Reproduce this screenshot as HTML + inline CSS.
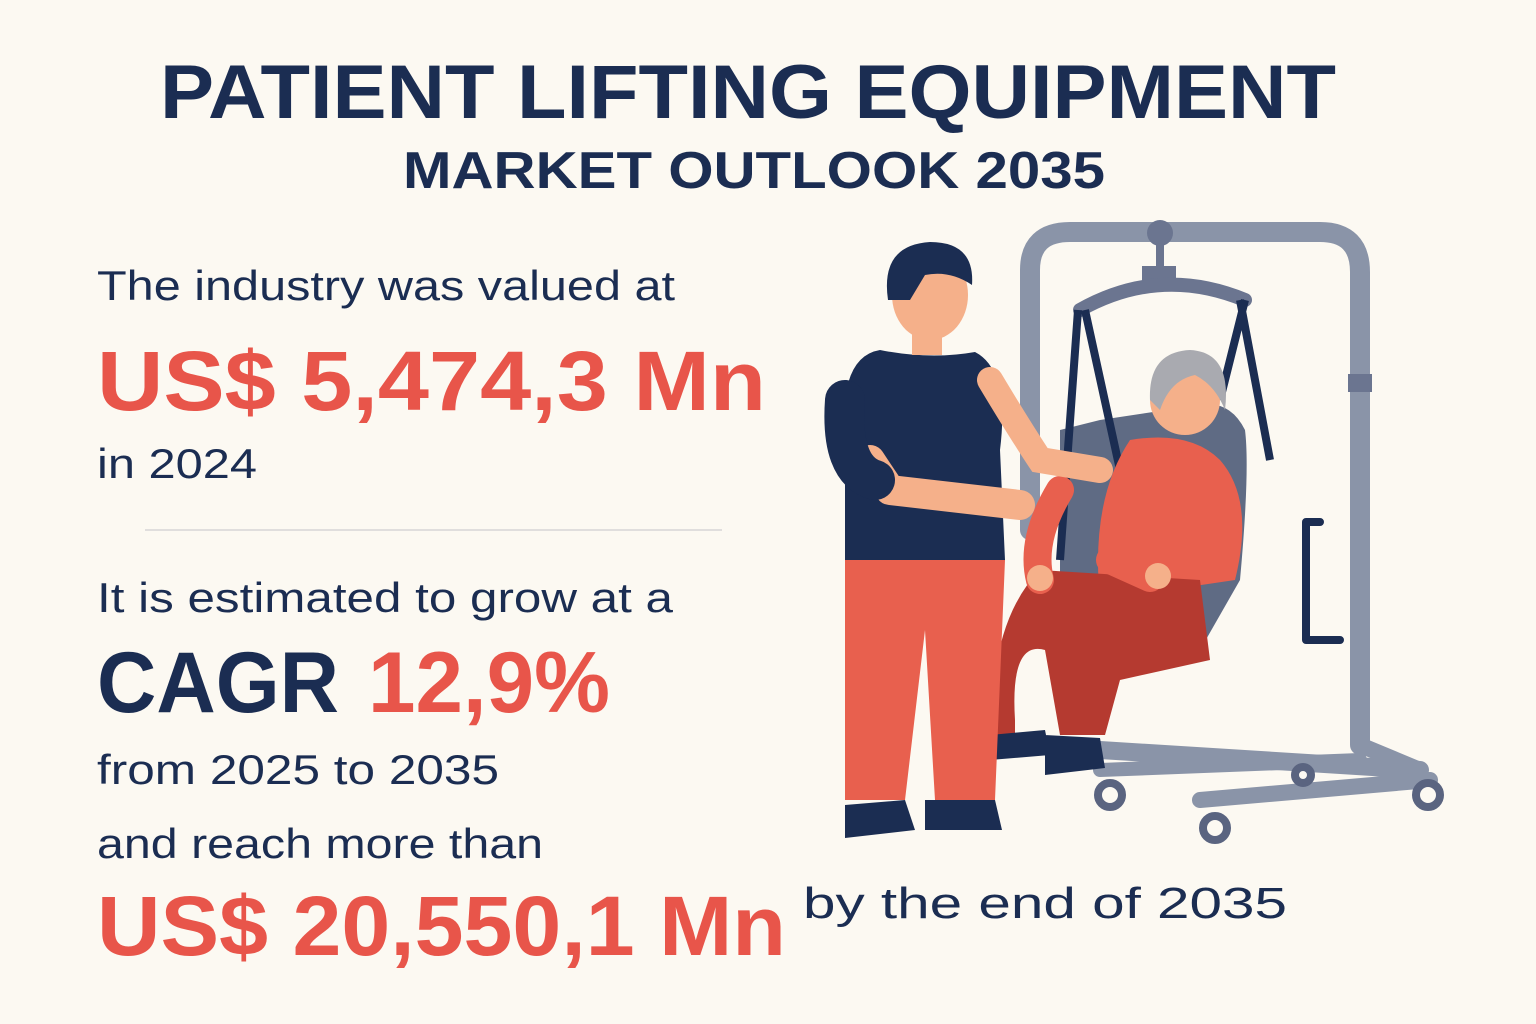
<!DOCTYPE html>
<html><head><meta charset="utf-8"><style>
html,body{margin:0;padding:0;background:#fcf9f2;}
svg{display:block;}
text{font-family:"Liberation Sans",sans-serif;}
</style></head><body>
<svg width="1536" height="1024" viewBox="0 0 1536 1024" xmlns="http://www.w3.org/2000/svg">
<rect width="1536" height="1024" fill="#fcf9f2"/>
<!-- Titles -->
<text x="160" y="118" font-size="76" font-weight="bold" fill="#1b2d52" textLength="1176" lengthAdjust="spacingAndGlyphs">PATIENT LIFTING EQUIPMENT</text>
<text x="403" y="188" font-size="52" font-weight="bold" fill="#1b2d52" textLength="702" lengthAdjust="spacingAndGlyphs">MARKET OUTLOOK 2035</text>
<!-- Left text -->
<text x="97" y="300" font-size="42" fill="#1b2d52" textLength="578" lengthAdjust="spacingAndGlyphs">The industry was valued at</text>
<text x="97" y="410" font-size="84" font-weight="bold" fill="#e8554a" textLength="669" lengthAdjust="spacingAndGlyphs">US$ 5,474,3 Mn</text>
<text x="97" y="478" font-size="42" fill="#1b2d52" textLength="160" lengthAdjust="spacingAndGlyphs">in 2024</text>
<line x1="145" y1="530" x2="722" y2="530" stroke="#d6d6d6" stroke-width="1.5"/>
<text x="97" y="612" font-size="42" fill="#1b2d52" textLength="576" lengthAdjust="spacingAndGlyphs">It is estimated to grow at a</text>
<text x="97" y="712" font-size="86" font-weight="bold" fill="#1b2d52" textLength="242" lengthAdjust="spacingAndGlyphs">CAGR</text>
<text x="368" y="712" font-size="86" font-weight="bold" fill="#e8554a" textLength="242" lengthAdjust="spacingAndGlyphs">12,9%</text>
<text x="97" y="784" font-size="42" fill="#1b2d52" textLength="402" lengthAdjust="spacingAndGlyphs">from 2025 to 2035</text>
<text x="97" y="858" font-size="42" fill="#1b2d52" textLength="446" lengthAdjust="spacingAndGlyphs">and reach more than</text>
<text x="97" y="955" font-size="84" font-weight="bold" fill="#e8554a" textLength="689" lengthAdjust="spacingAndGlyphs">US$ 20,550,1 Mn</text>
<text x="803" y="918" font-size="44" fill="#1b2d52" textLength="484" lengthAdjust="spacingAndGlyphs">by the end of 2035</text>

<!-- Lift frame -->
<g fill="none" stroke="#8a94a8" stroke-linecap="round" stroke-linejoin="round">
  <path d="M1030 530 L1030 270 Q1030 232 1070 232 L1320 232 Q1360 232 1360 272 L1360 745" stroke-width="20"/>
  <path d="M1100 750 L1420 770" stroke-width="18"/>
  <path d="M1360 745 L1420 770" stroke-width="16"/>
  <path d="M1200 800 L1430 780" stroke-width="16"/>
  <path d="M1100 770 L1360 760" stroke-width="14"/>
  <path d="M1320 522 L1306 522 L1306 640 L1340 640" stroke="#1b2d52" stroke-width="8"/>
</g>
<rect x="1348" y="374" width="24" height="18" fill="#6b7590"/>
<circle cx="1160" cy="233" r="13" fill="#6b7590"/>
<rect x="1142" y="266" width="34" height="16" fill="#6b7590"/>
<path d="M1160 244 L1160 266" stroke="#6b7590" stroke-width="8"/>
<path d="M1080 310 Q1160 265 1245 300" stroke="#6b7590" stroke-width="14" fill="none" stroke-linecap="round"/>
<!-- wheels -->
<g fill="#fcf9f2" stroke="#5a6480" stroke-width="8">
  <circle cx="1110" cy="795" r="12"/><circle cx="1215" cy="828" r="12"/>
  <circle cx="1428" cy="795" r="12"/><circle cx="1303" cy="775" r="8"/>
</g>
<!-- sling -->
<path d="M1060 430 Q1060 560 1060 590 L1080 680 L1200 650 L1240 580 Q1250 470 1245 430 Q1230 400 1200 405 L1100 420 Z" fill="#5f6b84"/>
<path d="M1078 310 L1060 560 M1085 310 L1120 470 M1240 300 L1270 460 M1245 300 L1220 400" stroke="#1b2d52" stroke-width="8" fill="none"/>
<!-- patient -->
<path d="M1130 440 Q1190 430 1220 460 Q1255 500 1235 580 L1100 600 Q1090 500 1130 440 Z" fill="#e8604e"/>
<path d="M1040 570 L1200 580 L1210 660 L1120 680 L1105 735 L1060 735 L1045 650 Q1010 640 1015 720 L1015 740 L990 740 Q990 620 1040 570 Z" fill="#b53a30"/>
<path d="M1110 560 L1150 578" stroke="#e8604e" stroke-width="28" stroke-linecap="round"/>
<path d="M1060 490 Q1030 540 1040 580" stroke="#e8604e" stroke-width="28" stroke-linecap="round" fill="none"/>
<circle cx="1040" cy="578" r="13" fill="#f5b08a"/>
<circle cx="1158" cy="576" r="13" fill="#f5b08a"/>
<path d="M990 735 L1045 730 L1050 755 L990 760 Z M1045 735 L1100 738 L1105 768 L1045 775 Z" fill="#1b2d52"/>
<circle cx="1185" cy="400" r="35" fill="#f5b08a"/>
<path d="M1150 400 Q1148 352 1190 350 Q1232 352 1225 410 Q1215 385 1195 375 Q1170 380 1160 410 Z" fill="#a9aab0"/>
<!-- caregiver -->
<path d="M845 560 L1005 560 L995 800 L935 800 L925 630 L905 800 L845 800 Z" fill="#e8604e"/>
<path d="M845 805 L905 800 L915 830 L845 838 Z M925 800 L995 800 L1002 830 L925 830 Z" fill="#1b2d52"/>
<path d="M880 350 Q930 360 975 352 Q1010 370 1000 450 L1005 560 L845 560 L845 400 Q850 355 880 350 Z" fill="#1b2d52"/>
<path d="M870 460 L890 490 L1020 505" stroke="#f5b08a" stroke-width="30" fill="none" stroke-linecap="round" stroke-linejoin="round"/>
<path d="M990 380 Q1020 430 1040 460 L1100 470" stroke="#f5b08a" stroke-width="26" fill="none" stroke-linecap="round"/>
<path d="M845 400 Q840 470 875 480" stroke="#1b2d52" stroke-width="40" fill="none" stroke-linecap="round"/>
<rect x="912" y="320" width="30" height="35" fill="#f5b08a"/>
<ellipse cx="930" cy="295" rx="38" ry="45" fill="#f5b08a"/>
<path d="M888 300 Q880 245 930 242 Q975 242 972 285 Q950 270 925 275 L910 300 Z" fill="#1b2d52"/>
</svg>
</body></html>
